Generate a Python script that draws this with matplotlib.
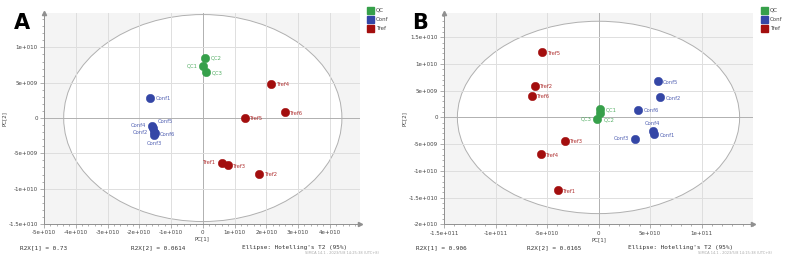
import matplotlib
matplotlib.use("Agg")
import matplotlib.pyplot as plt
from matplotlib.patches import Ellipse, Rectangle
from matplotlib.ticker import MultipleLocator, FixedLocator

# ---- data: panel A ----
a_qc_names = ["QC1", "QC2", "QC3"]
a_qc_x = [0.02e10, 0.06e10, 0.10e10]
a_qc_y = [7.37e9, 8.54e9, 6.5e9]
a_conf_names = ["Conf1", "Conf2", "Conf3", "Conf4", "Conf5", "Conf6"]
a_conf_x = [-1.66e10, -1.54e10, -1.53e10, -1.61e10, -1.56e10, -1.52e10]
a_conf_y = [2.83e9, -2.0e9, -2.4e9, -1.09e9, -1.46e9, -2.17e9]
a_tref_names = ["Tref1", "Tref2", "Tref3", "Tref4", "Tref5", "Tref6"]
a_tref_x = [0.60e10, 1.77e10, 0.79e10, 2.16e10, 1.32e10, 2.58e10]
a_tref_y = [-6.33e9, -7.9e9, -6.7e9, 4.8e9, 0.04e9, 0.8e9]
a_xticks = [-5e10, -4e10, -3e10, -2e10, -1e10, 0, 1e10, 2e10, 3e10, 4e10]
a_xlabels = ["-5e+010", "-4e+010", "-3e+010", "-2e+010", "-1e+010", "0",
             "1e+010", "2e+010", "3e+010", "4e+010"]
a_yticks = [-1.5e10, -1e10, -5e9, 0, 5e9, 1e10]
a_ylabels = ["-1.5e+010", "-1e+010", "-5e+009", "0", "5e+009", "1e+010"]
a_r2x = ["R2X[1] = 0.73", "R2X[2] = 0.0614"]

# ---- data: panel B ----
b_qc_names = ["QC1", "QC2", "QC3"]
b_qc_x = [0.19e10, 0.13e10, -0.10e10]
b_qc_y = [1.55e9, 0.86e9, -0.32e9]
b_conf_names = ["Conf1", "Conf2", "Conf3", "Conf4", "Conf5", "Conf6"]
b_conf_x = [5.37e10, 5.95e10, 3.5e10, 5.27e10, 5.73e10, 3.85e10]
b_conf_y = [-3.18e9, 3.75e9, -4.0e9, -2.57e9, 6.74e9, 1.42e9]
b_tref_names = ["Tref1", "Tref2", "Tref3", "Tref4", "Tref5", "Tref6"]
b_tref_x = [-3.98e10, -6.18e10, -3.27e10, -5.6e10, -5.47e10, -6.5e10]
b_tref_y = [-13.67e9, 5.92e9, -4.38e9, -6.93e9, 12.17e9, 3.99e9]
b_xticks = [-1.5e11, -1e11, -5e10, 0, 5e10, 1e11]
b_xlabels = ["-1.5e+011", "-1e+011", "-5e+010", "0", "5e+010", "1e+011"]
b_yticks = [-2e10, -1.5e10, -1e10, -5e9, 0, 5e9, 1e10, 1.5e10]
b_ylabels = ["-2e+010", "-1.5e+010", "-1e+010", "-5e+009", "0", "5e+009",
             "1e+010", "1.5e+010"]
b_r2x = ["R2X[1] = 0.906", "R2X[2] = 0.0165"]

QC_COL = "#36a04a"
CONF_COL = "#3446a6"
TREF_COL = "#a30e0e"

# label placement: direction per point
R, L, U, D = "r", "l", "u", "d"
a_dirs = {"QC1": L, "QC2": R, "QC3": R, "Conf1": R, "Conf2": L, "Conf3": D,
          "Conf4": L, "Conf5": "ur", "Conf6": R, "Tref1": L}
b_dirs = {"QC1": R, "QC2": "dr", "QC3": L, "Conf3": L, "Conf4": U}

offs = {R: ((4, -0.5), "left", "center"), L: ((-4, 0), "right", "center"),
        U: ((0, 4), "center", "bottom"), D: ((0, -4), "center", "top"),
        "ur": ((3, 3), "left", "bottom"), "dr": ((3, -3), "left", "top")}


def draw_panel(fig, rect, xlim, ylim, ell, xticks, xlabels, xminor, yticks,
               ylabels, yminor, groups, dirs):
    ax = fig.add_axes(rect)
    ax.set_xlim(*xlim)
    ax.set_ylim(*ylim)
    ax.set_facecolor("#f4f4f4")
    ax.add_patch(Ellipse((0, 0), 2 * ell[0], 2 * ell[1], facecolor="white",
                         edgecolor="#b0b0b0", lw=0.7, zorder=0.5))
    for t in xticks:
        ax.axvline(t, color="#b0b0b0" if t == 0 else "#dedede", lw=0.7, zorder=0.8)
    for t in yticks:
        ax.axhline(t, color="#b0b0b0" if t == 0 else "#dedede", lw=0.7, zorder=0.8)
    ax.xaxis.set_major_locator(FixedLocator(xticks))
    ax.set_xticklabels(xlabels)
    ax.yaxis.set_major_locator(FixedLocator(yticks))
    ax.set_yticklabels(ylabels)
    ax.xaxis.set_minor_locator(MultipleLocator(xminor))
    ax.yaxis.set_minor_locator(MultipleLocator(yminor))
    ax.tick_params(which="both", colors="#909090", labelcolor="#444444",
                   labelsize=4, width=0.5)
    ax.tick_params(which="major", length=3, pad=1.5)
    ax.tick_params(which="minor", length=1.5)
    for s in ["top", "right"]:
        ax.spines[s].set_visible(False)
    for s in ["left", "bottom"]:
        ax.spines[s].set_color("#909090")
        ax.spines[s].set_linewidth(0.7)
    ax.plot(1, 0, ">", transform=ax.transAxes, clip_on=False, color="#909090", ms=3)
    ax.plot(0, 1, "^", transform=ax.transAxes, clip_on=False, color="#909090", ms=3)
    ax.set_xlabel("PC[1]", fontsize=4, color="#444444", labelpad=1)
    ax.set_ylabel("PC[2]", fontsize=4, color="#444444", labelpad=1)

    for names, xs, ys, col in groups:
        ax.scatter(xs, ys, s=36, color=col, edgecolor=col, linewidth=0.4, zorder=3)
        for n, x, y in zip(names, xs, ys):
            (dx, dy), ha, va = offs[dirs.get(n, R)]
            ax.annotate(n, (x, y), xytext=(dx, dy), textcoords="offset points",
                        ha=ha, va=va, fontsize=3.8, color=col, alpha=0.85, zorder=4)
    return ax


fig = plt.figure(figsize=(7.89, 2.57), dpi=100)

draw_panel(fig, [44 / 789, 1 - 224 / 257, 316 / 789, 211 / 257],
           (-5e10, 4.95e10), (-1.5e10, 1.487e10), (4.38e10, 1.465e10),
           a_xticks, a_xlabels, 2e9, a_yticks, a_ylabels, 1e9,
           [(a_qc_names, a_qc_x, a_qc_y, QC_COL),
            (a_conf_names, a_conf_x, a_conf_y, CONF_COL),
            (a_tref_names, a_tref_x, a_tref_y, TREF_COL)], a_dirs)

draw_panel(fig, [444 / 789, 1 - 224.3 / 257, 309 / 789, 211.6 / 257],
           (-1.5e11, 1.5e11), (-2e10, 1.96e10), (1.37e11, 1.8e10),
           b_xticks, b_xlabels, 1e10, b_yticks, b_ylabels, 1e9,
           [(b_qc_names, b_qc_x, b_qc_y, QC_COL),
            (b_conf_names, b_conf_x, b_conf_y, CONF_COL),
            (b_tref_names, b_tref_x, b_tref_y, TREF_COL)], b_dirs)

# panel letters
fig.text(14 / 789, 1 - 23 / 257, "A", fontsize=15, fontweight="bold", va="center")
fig.text(412 / 789, 1 - 23 / 257, "B", fontsize=15, fontweight="bold", va="center")

# legends
for lx in [367, 761]:
    for i, (lab, col) in enumerate([("QC", QC_COL), ("Conf", CONF_COL), ("Tref", TREF_COL)]):
        y = 7 + i * 9
        fig.patches.append(Rectangle((lx / 789, 1 - (y + 7) / 257), 7 / 789, 7 / 257,
                                     transform=fig.transFigure, color=col))
        fig.text((lx + 9) / 789, 1 - (y + 3.5) / 257, lab, fontsize=4,
                 color="#444444", va="center")

# footer texts
mono = "DejaVu Sans Mono"
for x0, r2 in [(20, a_r2x), (416, b_r2x)]:
    fig.text(x0 / 789, 1 - 247.5 / 257, r2[0], fontsize=4.3, family=mono,
             color="#333333", va="center")
    fig.text((x0 + 111) / 789, 1 - 247.5 / 257, r2[1], fontsize=4.3, family=mono,
             color="#333333", va="center")
fig.text(242 / 789, 1 - 247.5 / 257, "Ellipse: Hotelling's T2 (95%)", fontsize=4.3,
         family=mono, color="#333333", va="center")
fig.text(628 / 789, 1 - 247.5 / 257, "Ellipse: Hotelling's T2 (95%)", fontsize=4.3,
         family=mono, color="#333333", va="center")
fig.text(305 / 789, 1 - 252.5 / 257, "SIMCA 14.1 - 2023/5/8 14:25:38 (UTC+8)",
         fontsize=2.6, color="#aaaaaa", va="center")
fig.text(698 / 789, 1 - 252.5 / 257, "SIMCA 14.1 - 2023/5/8 14:15:38 (UTC+8)",
         fontsize=2.6, color="#aaaaaa", va="center")

fig.savefig("out.png", dpi=100)
